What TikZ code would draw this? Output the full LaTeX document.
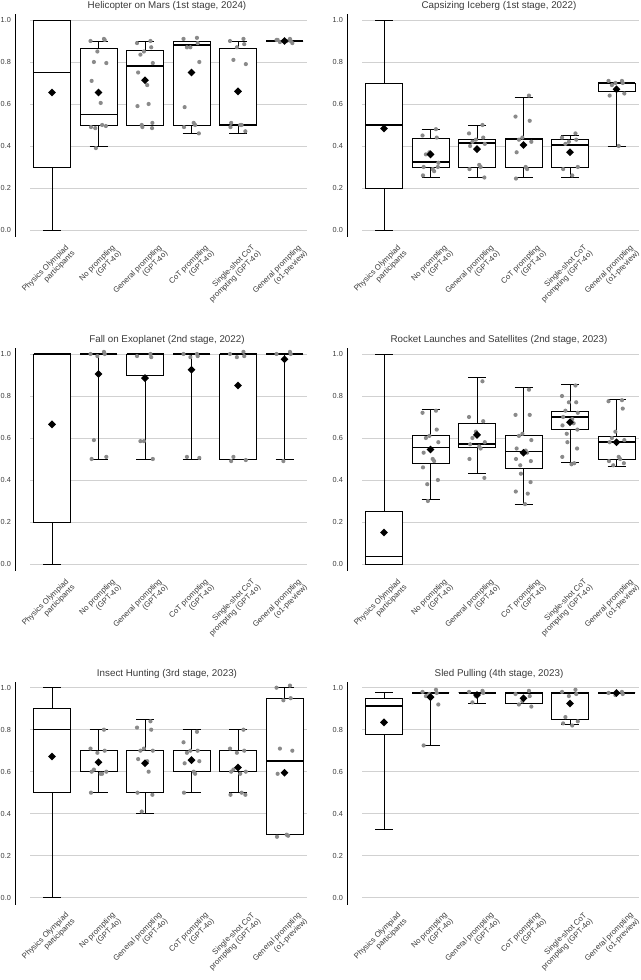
\documentclass[tikz,border=0pt]{standalone}
\usepackage{fontspec}
\setmainfont{Liberation Sans}
\usetikzlibrary{shapes.geometric}
\definecolor{dotgray}{HTML}{8A8A8A}
\definecolor{txtgray}{HTML}{3A3A3A}
\tikzset{
  grid line/.style={draw=black!18, line width=0.7pt},
  box/.style={draw=black, line width=0.9pt, fill=white},
  med/.style={draw=black, line width=1.6pt},
  whisk/.style={draw=black, line width=0.9pt},
  pt/.style={fill=dotgray},
  meanmark/.style={diamond, fill=black, inner sep=0pt, minimum size=8pt},
  ticklab/.style={anchor=west, inner sep=0pt, font=\fontsize{7.3}{8}\selectfont, text=txtgray},
  catlab/.style={anchor=north east, rotate=45, align=right, font=\fontsize{7.8}{8.6}\selectfont, text=txtgray},
  ptitle/.style={font=\fontsize{9.8}{11}\selectfont, text=txtgray},
}
% #1 index, #2 q1, #3 median, #4 q3, #5 low, #6 high, #7 mean, #8 points
\newcommand{\bplot}[8]{%
  \pgfmathsetmacro\cx{37+46.5*#1}
  \draw[whisk] (\cx,#5*210) -- (\cx,#6*210);
  \draw[whisk] (\cx-9,#5*210) -- (\cx+9,#5*210);
  \draw[whisk] (\cx-9,#6*210) -- (\cx+9,#6*210);
  \draw[box] (\cx-18.5,#2*210) rectangle (\cx+18.5,#4*210);
  \draw[med] (\cx-18.5,#3*210) -- (\cx+18.5,#3*210);
  \foreach \p [count=\k] in {#8} {
    \fill[pt] ({\cx+8*sin(\k*137)},\p*210) circle (2.1);
  }
  \node[meanmark] at (\cx,#7*210) {};
}
\newcommand{\panel}[1]{%
  \foreach \v in {0.0,0.2,0.4,0.6,0.8,1.0} {
    \draw[grid line] (15,\v*210) -- (292,\v*210);
    \node[ticklab] at (-14.5,\v*210) {\v};
  }
  \draw[line width=0.9pt] (0,-7) -- (0,216);
  \node[ptitle] at (152,224) {#1};
  \node[catlab] at (37+13,-9) {Physics Olympiad\\participants};
  \node[catlab] at (37+46.5+13,-9) {No prompting\\(GPT-4o)};
  \node[catlab] at (37+93+13,-9) {General prompting\\(GPT-4o)};
  \node[catlab] at (37+139.5+13,-9) {CoT prompting\\(GPT-4o)};
  \node[catlab] at (37+186+13,-9) {Single-shot CoT\\prompting (GPT-4o)};
  \node[catlab] at (37+232.5+13,-9) {General prompting\\(o1-preview)};
}

\begin{document}
\begin{tikzpicture}[x=1pt, y=1pt]
  \useasboundingbox (0,0) rectangle (640,980);

  % Helicopter on Mars
  \begin{scope}[shift={(15,750)}]
    \panel{Helicopter on Mars (1st stage, 2024)}
    \bplot{0}{.3}{.75}{1.0}{0}{1.0}{.655}{}
    \bplot{1}{.5}{.55}{.865}{.4}{.9}{.655}{.91,.90,.905,.85,.80,.795,.71,.605,.50,.49,.495,.485,.39}
    \bplot{2}{.5}{.78}{.857}{.5}{.9}{.713}{.9,.89,.87,.85,.835,.795,.75,.69,.6,.59,.51,.50,.49,.485}
    \bplot{3}{.5}{.88}{.9}{.46}{.9}{.75}{.915,.91,.89,.87,.87,.80,.585,.51,.5,.49,.46}
    \bplot{4}{.5}{.5}{.865}{.46}{.9}{.66}{.91,.9,.885,.87,.81,.79,.51,.5,.5,.49,.47}
    \bplot{5}{.9}{.9}{.9}{.9}{.9}{.9}{.91,.905,.9,.9,.895,.89,.905,.9}
  \end{scope}

  % Capsizing Iceberg
  \begin{scope}[shift={(347,750)}]
    \panel{Capsizing Iceberg (1st stage, 2022)}
    \bplot{0}{.2}{.5}{.7}{0}{1.0}{.483}{}
    \bplot{1}{.3}{.325}{.435}{.25}{.48}{.36}{.48,.45,.44,.37,.36,.32,.3,.29,.28,.26,.3}
    \bplot{2}{.3}{.415}{.43}{.25}{.5}{.385}{.5,.46,.44,.43,.42,.41,.4,.31,.3,.29,.25}
    \bplot{3}{.3}{.43}{.435}{.25}{.63}{.405}{.64,.54,.52,.44,.43,.42,.37,.3,.29,.245}
    \bplot{4}{.3}{.405}{.43}{.25}{.45}{.37}{.46,.44,.43,.42,.41,.3,.29,.26}
    \bplot{5}{.66}{.7}{.7}{.4}{.7}{.67}{.71,.71,.70,.70,.69,.65,.64,.4}
  \end{scope}

  % Fall on Exoplanet
  \begin{scope}[shift={(15,416)}]
    \panel{Fall on Exoplanet (2nd stage, 2022)}
    \bplot{0}{.2}{1}{1}{0}{1}{.665}{}
    \bplot{1}{1}{1}{1}{.5}{1}{.905}{1.01,1.0,1.0,.99,.59,.51,.5}
    \bplot{2}{.9}{1}{1}{.5}{1}{.885}{1.0,.99,.985,.585,.585,.5}
    \bplot{3}{1}{1}{1}{.5}{1}{.925}{1,1,.99,.985,.51,.505}
    \bplot{4}{.5}{1}{1}{.5}{1}{.85}{1.01,1,.99,.985,.51,.495,.49}
    \bplot{5}{1}{1}{1}{.5}{1}{.975}{1.01,1,1,.49}
  \end{scope}

  % Rocket Launches and Satellites
  \begin{scope}[shift={(347,416)}]
    \panel{Rocket Launches and Satellites (2nd stage, 2023)}
    \bplot{0}{0}{.035}{.25}{0}{1.0}{.15}{}
    \bplot{1}{.48}{.555}{.61}{.305}{.735}{.545}{.73,.72,.64,.61,.6,.58,.53,.5,.49,.46,.4,.38,.3}
    \bplot{2}{.555}{.57}{.67}{.43}{.89}{.615}{.87,.7,.68,.63,.6,.58,.57,.56,.55,.5,.41}
    \bplot{3}{.455}{.535}{.61}{.285}{.84}{.53}{.83,.71,.71,.62,.61,.59,.55,.54,.53,.5,.49,.47,.43,.39,.345,.335,.285}
    \bplot{4}{.64}{.70}{.725}{.485}{.855}{.675}{.85,.80,.77,.77,.73,.72,.70,.69,.67,.66,.64,.62,.58,.55,.51,.48,.475}
    \bplot{5}{.5}{.58}{.605}{.465}{.785}{.58}{.78,.775,.74,.63,.6,.59,.58,.51,.5,.49,.48,.47}
  \end{scope}

  % Insect Hunting
  \begin{scope}[shift={(15,82.3)}]
    \panel{Insect Hunting (3rd stage, 2023)}
    \bplot{0}{.5}{.8}{.9}{0}{1}{.672}{}
    \bplot{1}{.6}{.6}{.7}{.5}{.8}{.645}{.8,.71,.7,.69,.61,.6,.6,.59,.59,.5}
    \bplot{2}{.5}{.7}{.7}{.4}{.85}{.64}{.84,.81,.8,.71,.7,.7,.66,.65,.6,.5,.49,.41}
    \bplot{3}{.6}{.7}{.7}{.5}{.8}{.655}{.79,.74,.7,.7,.69,.65,.64,.6,.59,.5}
    \bplot{4}{.6}{.6}{.7}{.5}{.8}{.62}{.8,.71,.7,.69,.61,.6,.6,.59,.5,.49,.49}
    \bplot{5}{.3}{.65}{.95}{.3}{1.0}{.595}{1.01,1.0,.95,.94,.71,.7,.59,.3,.295,.29}
  \end{scope}

  % Sled Pulling
  \begin{scope}[shift={(347,82.3)}]
    \panel{Sled Pulling (4th stage, 2023)}
    \bplot{0}{.775}{.912}{.95}{.325}{.975}{.835}{}
    \bplot{1}{.975}{.975}{.975}{.725}{.975}{.955}{.99,.98,.975,.97,.96,.92,.725}
    \bplot{2}{.975}{.975}{.975}{.925}{.975}{.965}{.985,.98,.975,.96,.93}
    \bplot{3}{.925}{.975}{.975}{.925}{.975}{.95}{.985,.97,.96,.935,.92,.91}
    \bplot{4}{.85}{.975}{.975}{.825}{.975}{.925}{.99,.98,.97,.96,.86,.84,.83,.82}
    \bplot{5}{.975}{.975}{.975}{.975}{.975}{.975}{.98,.975,.97,.965}
  \end{scope}
\end{tikzpicture}
\end{document}
